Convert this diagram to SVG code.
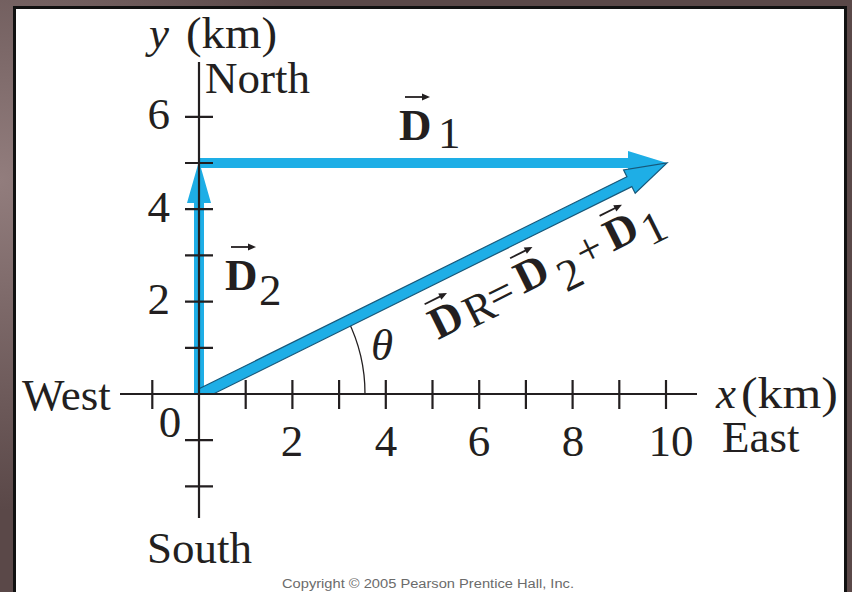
<svg xmlns="http://www.w3.org/2000/svg" width="852" height="592" viewBox="0 0 852 592">
<defs>
<radialGradient id="bg" cx="0" cy="180" r="330" gradientUnits="userSpaceOnUse">
<stop offset="0" stop-color="#927d7d"/>
<stop offset="1" stop-color="#5a4848"/>
</radialGradient>
<g id="acc">
<line x1="0" y1="0" x2="22" y2="0" stroke="#231f20" stroke-width="1.8"/>
<path d="M17,-3.5 L25,0 L17,3.5 Z" fill="#231f20"/>
</g>
<style>
.t{font-family:"Liberation Serif","Times New Roman",serif;font-size:45px;fill:#231f20}
.i{font-style:italic}
.b{font-weight:bold}
.ax{stroke:#231f20;stroke-width:2.2;fill:none}
.vec{fill:#1eaee6}
.arc{stroke:#231f20;stroke-width:1.3;fill:none}
</style>
</defs>
<rect x="0" y="0" width="852" height="592" fill="url(#bg)"/>
<rect x="14.5" y="7.5" width="831" height="600" fill="#ffffff" stroke="#111" stroke-width="3"/>

<g id="connectors">
<g id="D2"><path class="vec" d="M194,394 L194,203 L187,203 L199,161 L211,203 L204,203 L204,394 Z"/></g>
<g id="D1"><path class="vec" d="M199,158 L628,158 L628,151 L667,163 L628,175 L628,168 L199,168 Z"/></g>
<g id="theta-arc"><path class="arc" d="M365,394 A166,166 0 0 0 347.5,319.5"/></g>
<g id="DR"><path class="vec" stroke="#17587a" stroke-width="1.2" stroke-linejoin="miter" d="M199,388.8 L626.9,176.7 L623.6,170 L667,163 L635.2,193.3 L631.8,186.6 L213.3,394 L199,394 Z"/></g>
</g>

<g id="axes">
<path class="ax" d="M120,394 H697 M199,62 V518"/>
<path class="ax" d="M152.3,380 V409 M245.7,380 V409 M292.4,380 V409 M339.1,380 V409 M385.8,380 V409 M432.5,380 V409 M479.2,380 V409 M525.9,380 V409 M572.6,380 V409 M619.3,380 V409 M666,380 V409"/>
<path class="ax" d="M185,116.8 H213 M185,163 H213 M185,209.2 H213 M185,255.4 H213 M185,301.6 H213 M185,347.8 H213 M185,440.2 H213 M185,486.4 H213"/>
</g>

<g id="axis-labels">
<text class="t i" x="149" y="48">y</text>
<text class="t" x="186" y="48" textLength="91" lengthAdjust="spacingAndGlyphs">(km)</text>
<text class="t" x="205" y="93">North</text>
<text class="t" x="22" y="410">West</text>
<text class="t" x="147" y="563">South</text>
<text class="t i" x="716" y="408">x</text>
<text class="t" x="741" y="408" textLength="97" lengthAdjust="spacingAndGlyphs">(km)</text>
<text class="t" x="722" y="452">East</text>
</g>

<g id="tick-labels">
<text class="t" x="170" y="129" text-anchor="end">6</text>
<text class="t" x="170" y="222" text-anchor="end">4</text>
<text class="t" x="170" y="314" text-anchor="end">2</text>
<text class="t" x="170" y="437" text-anchor="middle">0</text>
<text class="t" x="292" y="456" text-anchor="middle">2</text>
<text class="t" x="386" y="456" text-anchor="middle">4</text>
<text class="t" x="479" y="456" text-anchor="middle">6</text>
<text class="t" x="573" y="456" text-anchor="middle">8</text>
<text class="t" x="671" y="456" text-anchor="middle">10</text>
</g>

<g id="theta"><text class="t i" x="371" y="360">θ</text></g>

<g id="label-D1">
<text class="t b" x="399" y="140" font-size="48">D</text>
<text class="t" x="438" y="148" font-size="30">1</text>
<use href="#acc" x="405" y="97"/>
</g>

<g id="label-D2">
<text class="t b" x="225" y="290" font-size="48">D</text>
<text class="t" x="259" y="305" font-size="30">2</text>
<use href="#acc" x="231" y="247"/>
</g>

<g id="label-DR" transform="translate(438,340) rotate(-26.5)">
<text class="t b" x="0" y="0" font-size="44">D</text>
<use href="#acc" x="4" y="-38"/>
<text class="t" x="36" y="5" font-size="28">R</text>
<text class="t" x="64" y="1" font-size="42">=</text>
<text class="t b" x="97" y="-3" font-size="44">D</text>
<use href="#acc" x="101" y="-41"/>
<text class="t" x="136" y="15" font-size="30">2</text>
<text class="t" x="163" y="1" font-size="42">+</text>
<text class="t b" x="196" y="-1" font-size="44">D</text>
<use href="#acc" x="200" y="-39"/>
<text class="t" x="232" y="11" font-size="30">1</text>
</g>

<g id="copyright">
<text x="428" y="588" text-anchor="middle" font-family="Liberation Sans, Arial, sans-serif" font-size="12.5" fill="#6b6b6b" textLength="292" lengthAdjust="spacingAndGlyphs">Copyright © 2005 Pearson Prentice Hall, Inc.</text>
</g>
</svg>
